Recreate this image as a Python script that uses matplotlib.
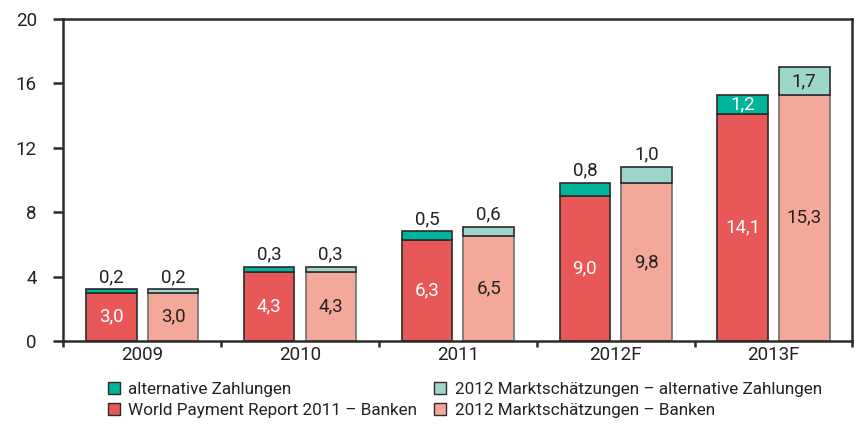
import matplotlib
matplotlib.use("Agg")
from matplotlib import pyplot as plt
from matplotlib.patches import Patch
import numpy as np

plt.rcParams['font.family'] = ['Roboto', 'DejaVu Sans']

years = ["2009", "2010", "2011", "2012F", "2013F"]
wpr_banken = [3.0, 4.3, 6.3, 9.0, 14.1]
wpr_alt = [0.2, 0.3, 0.5, 0.8, 1.2]
mkt_banken = [3.0, 4.3, 6.5, 9.8, 15.3]
mkt_alt = [0.2, 0.3, 0.6, 1.0, 1.7]

legend_labels = ["alternative Zahlungen",
                 "World Payment Report 2011 \u2013 Banken",
                 "2012 Marktsch\u00e4tzungen \u2013 alternative Zahlungen",
                 "2012 Marktsch\u00e4tzungen \u2013 Banken"]

c_red = "#e85858"
c_teal = "#00b39b"
c_pink = "#f4a89a"
c_lteal = "#9dd6cb"
c_edge = "#2e2a2a"
c_edge2 = "#6f6f6f"
c_text = "#222222"

fig = plt.figure(figsize=(8.55, 4.24), dpi=100)
ax = fig.add_axes([0.074, 0.196, 0.923, 0.759])

x = np.arange(len(years))
w = 0.32
off = 0.195

def fmt(v):
    return f"{v:.1f}".replace(".", ",")

ax.bar(x - off, wpr_banken, w, color=c_red, edgecolor=c_edge, linewidth=1.2)
ax.bar(x - off, wpr_alt, w, bottom=wpr_banken, color=c_teal, edgecolor=c_edge, linewidth=1.2)
ax.bar(x + off, mkt_banken, w, color=c_pink, edgecolor=c_edge2, linewidth=1.2)
ax.bar(x + off, mkt_alt, w, bottom=mkt_banken, color=c_lteal, edgecolor=c_edge, linewidth=1.2)

fs = 13.5
for i in range(len(years)):
    ax.text(x[i] - off, wpr_banken[i] / 2, fmt(wpr_banken[i]), ha='center', va='center',
            color='white', fontsize=fs)
    ax.text(x[i] + off, mkt_banken[i] / 2, fmt(mkt_banken[i]), ha='center', va='center',
            color=c_text, fontsize=fs)
    if wpr_alt[i] >= 1.1:
        ax.text(x[i] - off, wpr_banken[i] + wpr_alt[i] / 2, fmt(wpr_alt[i]), ha='center',
                va='center', color='white', fontsize=fs)
    else:
        ax.annotate(fmt(wpr_alt[i]), (x[i] - off, wpr_banken[i] + wpr_alt[i]),
                    xytext=(0, 2.5), textcoords='offset points', ha='center', va='bottom',
                    color=c_text, fontsize=fs)
    if mkt_alt[i] >= 1.1:
        ax.text(x[i] + off, mkt_banken[i] + mkt_alt[i] / 2, fmt(mkt_alt[i]), ha='center',
                va='center', color=c_text, fontsize=fs)
    else:
        ax.annotate(fmt(mkt_alt[i]), (x[i] + off, mkt_banken[i] + mkt_alt[i]),
                    xytext=(0, 2.5), textcoords='offset points', ha='center', va='bottom',
                    color=c_text, fontsize=fs)

ax.set_xlim(-0.5, len(years) - 0.5)
ax.set_ylim(0, 20)
ax.set_yticks([0, 4, 8, 12, 16, 20])
ax.set_xticks(x)
ax.set_xticklabels(years)
ax.set_xticks(np.arange(-0.5, len(years), 1), minor=True)
ax.tick_params(axis='x', which='major', length=0, labelsize=fs, colors=c_text, pad=4)
ax.tick_params(axis='x', which='minor', length=4, width=1.8, color=c_edge)
ax.tick_params(axis='y', length=7, width=1.8, labelsize=fs, colors=c_text, pad=12)
ax.tick_params(axis='y', color=c_edge)
for s in ax.spines.values():
    s.set_linewidth(1.8)
    s.set_color(c_edge)

handles = [Patch(facecolor=c_teal, edgecolor=c_edge),
           Patch(facecolor=c_red, edgecolor=c_edge),
           Patch(facecolor=c_lteal, edgecolor=c_edge),
           Patch(facecolor=c_pink, edgecolor=c_edge)]
fig.legend(handles, legend_labels, ncol=2, loc='lower left', bbox_to_anchor=(0.108, -0.022),
           frameon=False, fontsize=12.3, handlelength=0.7, handleheight=0.7,
           handletextpad=0.5, columnspacing=1.0, labelspacing=0.35, labelcolor=c_text)

fig.savefig("out.png", dpi=100)
